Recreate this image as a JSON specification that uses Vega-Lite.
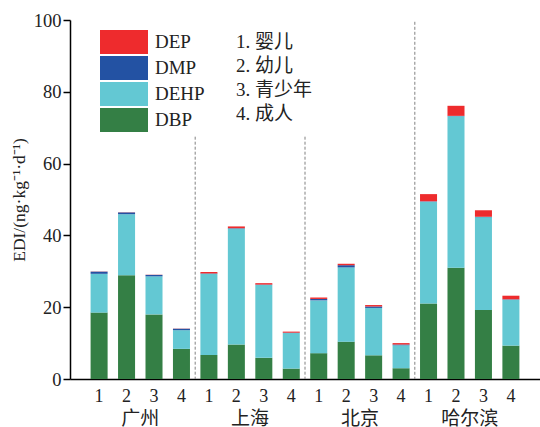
{
  "$schema": "https://vega.github.io/schema/vega-lite/v6.json",
  "width": 470,
  "height": 359,
  "autosize": {"type": "none"},
  "padding": {"left": 70, "top": 20, "right": 0, "bottom": 48},
  "background": "white",
  "config": {"view": {"stroke": null}, "font": "Times New Roman, Liberation Serif, serif"},
  "datasets": {
    "main": [
      {"city": "广州", "age": "1", "phth": "DBP", "value": 18.5, "order": 1},
      {"city": "广州", "age": "1", "phth": "DEHP", "value": 10.8, "order": 2},
      {"city": "广州", "age": "1", "phth": "DMP", "value": 0.6, "order": 3},
      {"city": "广州", "age": "1", "phth": "DEP", "value": 0.05, "order": 4},
      {"city": "广州", "age": "2", "phth": "DBP", "value": 28.9, "order": 1},
      {"city": "广州", "age": "2", "phth": "DEHP", "value": 17.0, "order": 2},
      {"city": "广州", "age": "2", "phth": "DMP", "value": 0.5, "order": 3},
      {"city": "广州", "age": "2", "phth": "DEP", "value": 0.05, "order": 4},
      {"city": "广州", "age": "3", "phth": "DBP", "value": 18.0, "order": 1},
      {"city": "广州", "age": "3", "phth": "DEHP", "value": 10.6, "order": 2},
      {"city": "广州", "age": "3", "phth": "DMP", "value": 0.4, "order": 3},
      {"city": "广州", "age": "3", "phth": "DEP", "value": 0.05, "order": 4},
      {"city": "广州", "age": "4", "phth": "DBP", "value": 8.4, "order": 1},
      {"city": "广州", "age": "4", "phth": "DEHP", "value": 5.2, "order": 2},
      {"city": "广州", "age": "4", "phth": "DMP", "value": 0.4, "order": 3},
      {"city": "广州", "age": "4", "phth": "DEP", "value": 0.05, "order": 4},
      {"city": "上海", "age": "1", "phth": "DBP", "value": 6.7, "order": 1},
      {"city": "上海", "age": "1", "phth": "DEHP", "value": 22.6, "order": 2},
      {"city": "上海", "age": "1", "phth": "DMP", "value": 0.1, "order": 3},
      {"city": "上海", "age": "1", "phth": "DEP", "value": 0.4, "order": 4},
      {"city": "上海", "age": "2", "phth": "DBP", "value": 9.6, "order": 1},
      {"city": "上海", "age": "2", "phth": "DEHP", "value": 32.3, "order": 2},
      {"city": "上海", "age": "2", "phth": "DMP", "value": 0.1, "order": 3},
      {"city": "上海", "age": "2", "phth": "DEP", "value": 0.5, "order": 4},
      {"city": "上海", "age": "3", "phth": "DBP", "value": 5.9, "order": 1},
      {"city": "上海", "age": "3", "phth": "DEHP", "value": 20.3, "order": 2},
      {"city": "上海", "age": "3", "phth": "DMP", "value": 0.1, "order": 3},
      {"city": "上海", "age": "3", "phth": "DEP", "value": 0.4, "order": 4},
      {"city": "上海", "age": "4", "phth": "DBP", "value": 2.9, "order": 1},
      {"city": "上海", "age": "4", "phth": "DEHP", "value": 9.9, "order": 2},
      {"city": "上海", "age": "4", "phth": "DMP", "value": 0.1, "order": 3},
      {"city": "上海", "age": "4", "phth": "DEP", "value": 0.3, "order": 4},
      {"city": "北京", "age": "1", "phth": "DBP", "value": 7.2, "order": 1},
      {"city": "北京", "age": "1", "phth": "DEHP", "value": 14.7, "order": 2},
      {"city": "北京", "age": "1", "phth": "DMP", "value": 0.4, "order": 3},
      {"city": "北京", "age": "1", "phth": "DEP", "value": 0.4, "order": 4},
      {"city": "北京", "age": "2", "phth": "DBP", "value": 10.4, "order": 1},
      {"city": "北京", "age": "2", "phth": "DEHP", "value": 20.7, "order": 2},
      {"city": "北京", "age": "2", "phth": "DMP", "value": 0.6, "order": 3},
      {"city": "北京", "age": "2", "phth": "DEP", "value": 0.4, "order": 4},
      {"city": "北京", "age": "3", "phth": "DBP", "value": 6.6, "order": 1},
      {"city": "北京", "age": "3", "phth": "DEHP", "value": 13.2, "order": 2},
      {"city": "北京", "age": "3", "phth": "DMP", "value": 0.4, "order": 3},
      {"city": "北京", "age": "3", "phth": "DEP", "value": 0.4, "order": 4},
      {"city": "北京", "age": "4", "phth": "DBP", "value": 3.0, "order": 1},
      {"city": "北京", "age": "4", "phth": "DEHP", "value": 6.4, "order": 2},
      {"city": "北京", "age": "4", "phth": "DMP", "value": 0.2, "order": 3},
      {"city": "北京", "age": "4", "phth": "DEP", "value": 0.4, "order": 4},
      {"city": "哈尔滨", "age": "1", "phth": "DBP", "value": 21.0, "order": 1},
      {"city": "哈尔滨", "age": "1", "phth": "DEHP", "value": 28.4, "order": 2},
      {"city": "哈尔滨", "age": "1", "phth": "DMP", "value": 0.1, "order": 3},
      {"city": "哈尔滨", "age": "1", "phth": "DEP", "value": 2.0, "order": 4},
      {"city": "哈尔滨", "age": "2", "phth": "DBP", "value": 31.0, "order": 1},
      {"city": "哈尔滨", "age": "2", "phth": "DEHP", "value": 42.2, "order": 2},
      {"city": "哈尔滨", "age": "2", "phth": "DMP", "value": 0.1, "order": 3},
      {"city": "哈尔滨", "age": "2", "phth": "DEP", "value": 2.8, "order": 4},
      {"city": "哈尔滨", "age": "3", "phth": "DBP", "value": 19.2, "order": 1},
      {"city": "哈尔滨", "age": "3", "phth": "DEHP", "value": 25.9, "order": 2},
      {"city": "哈尔滨", "age": "3", "phth": "DMP", "value": 0.1, "order": 3},
      {"city": "哈尔滨", "age": "3", "phth": "DEP", "value": 1.8, "order": 4},
      {"city": "哈尔滨", "age": "4", "phth": "DBP", "value": 9.3, "order": 1},
      {"city": "哈尔滨", "age": "4", "phth": "DEHP", "value": 12.8, "order": 2},
      {"city": "哈尔滨", "age": "4", "phth": "DMP", "value": 0.1, "order": 3},
      {"city": "哈尔滨", "age": "4", "phth": "DEP", "value": 1.0, "order": 4}
    ],
    "groups": [
      {"city": "广州", "age": "1", "name": "1. 婴儿"},
      {"city": "广州", "age": "2", "name": "2. 幼儿"},
      {"city": "广州", "age": "3", "name": "3. 青少年"},
      {"city": "广州", "age": "4", "name": "4. 成人"},
      {"city": "上海", "age": "1", "name": "1. 婴儿"},
      {"city": "上海", "age": "2", "name": "2. 幼儿"},
      {"city": "上海", "age": "3", "name": "3. 青少年"},
      {"city": "上海", "age": "4", "name": "4. 成人"},
      {"city": "北京", "age": "1", "name": "1. 婴儿"},
      {"city": "北京", "age": "2", "name": "2. 幼儿"},
      {"city": "北京", "age": "3", "name": "3. 青少年"},
      {"city": "北京", "age": "4", "name": "4. 成人"},
      {"city": "哈尔滨", "age": "1", "name": "1. 婴儿"},
      {"city": "哈尔滨", "age": "2", "name": "2. 幼儿"},
      {"city": "哈尔滨", "age": "3", "name": "3. 青少年"},
      {"city": "哈尔滨", "age": "4", "name": "4. 成人"}
    ],
    "separators": [
      {"city": "上海", "top": 67.5},
      {"city": "北京", "top": 67.5},
      {"city": "哈尔滨", "top": 99.5}
    ]
  },
  "layer": [
    {
      "data": {"name": "main"},
      "mark": {"type": "bar"},
      "encoding": {
        "x": {
          "field": "city", "type": "nominal",
          "sort": ["广州", "上海", "北京", "哈尔滨"],
          "scale": {"paddingInner": 0, "paddingOuter": 0.14},
          "axis": {
            "title": null, "orient": "bottom", "ticks": false, "labelAngle": 0,
            "domainColor": "black", "domainWidth": 1.5,
            "labelFont": "Times New Roman, Liberation Serif, Noto Sans CJK SC, serif", "labelFontSize": 19,
            "labelColor": "#222", "labelPadding": 30, "grid": false
          }
        },
        "xOffset": {
          "field": "age", "type": "nominal",
          "scale": {"paddingInner": 0.38, "paddingOuter": 0.19}
        },
        "y": {
          "field": "value", "type": "quantitative", "stack": "zero",
          "scale": {"domain": [0, 100], "nice": false},
          "axis": {
            "values": [0, 10, 20, 30, 40, 50, 60, 70, 80, 90, 100], "grid": false,
            "labelExpr": "datum.value % 20 === 0 ? datum.label : ''",
            "tickSize": {"condition": {"test": "datum.value % 20 === 0", "value": 7}, "value": 4},
            "tickWidth": 1.5, "tickColor": "black",
            "domainColor": "black", "domainWidth": 1.5,
            "labelFont": "Times New Roman, Liberation Serif, serif", "labelFontSize": 18.5, "labelColor": "#222",
            "labelPadding": 2,
            "title": "EDI/(ng·kg⁻¹·d⁻¹)", "titleFont": "Times New Roman, Liberation Serif, serif",
            "titleFontSize": 17.5, "titleFontWeight": "normal", "titleColor": "#222",
            "titlePadding": 5
          }
        },
        "color": {
          "field": "phth", "type": "nominal",
          "scale": {
            "domain": ["DEP", "DMP", "DEHP", "DBP"],
            "range": ["#EE2B2D", "#2352A3", "#63C8D3", "#347F45"]
          },
          "legend": {
            "orient": "none", "legendX": 30, "legendY": 10, "title": null,
            "symbolType": "M-1,-1H3V1H-1Z", "symbolSize": 576,
            "symbolStrokeWidth": 0, "symbolOpacity": 1,
            "labelFont": "Times New Roman, Liberation Serif, serif", "labelFontSize": 19,
            "labelColor": "#222", "labelOffset": 31, "rowPadding": 2, "padding": 0
          }
        },
        "order": {"field": "order", "type": "quantitative"}
      }
    },
    {
      "data": {"name": "separators"},
      "mark": {"type": "rule", "color": "#808080", "strokeDash": [3, 2], "strokeWidth": 1},
      "encoding": {
        "x": {
          "field": "city", "type": "nominal", "bandPosition": 0,
          "sort": ["广州", "上海", "北京", "哈尔滨"]
        },
        "y": {"field": "top", "type": "quantitative"},
        "y2": {"datum": 0}
      }
    },
    {
      "data": {"name": "groups"},
      "mark": {"type": "text", "dy": 18, "baseline": "middle", "fontSize": 18, "font": "Times New Roman, Liberation Serif, serif", "color": "#222"},
      "encoding": {
        "x": {"field": "city", "type": "nominal", "sort": ["广州", "上海", "北京", "哈尔滨"]},
        "xOffset": {"field": "age", "type": "nominal"},
        "y": {"datum": 0, "type": "quantitative"},
        "text": {"field": "age"},
        "opacity": {
          "field": "name", "type": "nominal",
          "scale": {"range": [1, 1]},
          "legend": {
            "orient": "none", "legendX": 138, "legendY": 10, "title": null,
            "symbolType": "M0,0", "symbolSize": 576,
            "symbolFillColor": "transparent", "symbolStrokeColor": "transparent",
            "symbolStrokeWidth": 0,
            "labelFont": "Times New Roman, Liberation Serif, Noto Sans CJK SC, serif", "labelFontSize": 19,
            "labelColor": "#222", "labelOffset": 4, "rowPadding": 2, "padding": 0
          }
        }
      }
    }
  ]
}
